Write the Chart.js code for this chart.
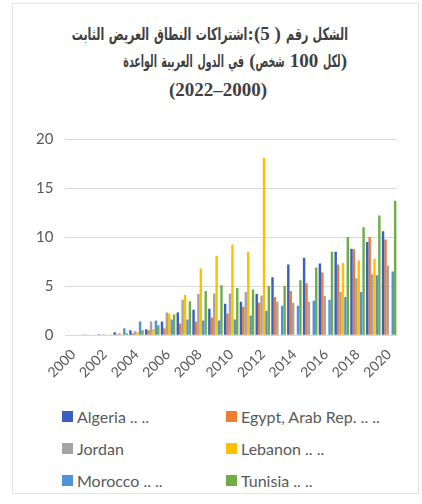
<!DOCTYPE html>
<html>
<head>
<meta charset="utf-8">
<script src="https://cdn.jsdelivr.net/npm/chart.js@4.4.0/dist/chart.umd.min.js"></script>
<style>
    body { margin: 0; background: #fff; width: 422px; height: 504px; position: relative; overflow: hidden; font-family: Lato, "Liberation Sans", sans-serif; }
    #frame { position: absolute; left: 12px; top: 3px; width: 405px; height: 489px; border: 1px solid #e4e4e4; }
    .tl { position: absolute; white-space: nowrap; color: #404040; font-family: "Liberation Serif", serif; font-weight: bold; font-size: 19px; line-height: 29px; }
    .tl .ar { display: inline-block; font-family: "DejaVu Sans", sans-serif; font-size: 17px; }
    #legend { position: absolute; left: 62px; top: 400px; display: grid; grid-template-columns: 164px 180px; grid-auto-rows: 32px; }
    .item { display: flex; align-items: center; font-size: 16px; color: #595959; white-space: nowrap; }
    .box { width: 11px; height: 11px; margin-right: 4px; }
</style>
</head>
<body>
<div id="frame"></div>
<div class="tl" id="t1" dir="rtl" style="right:74px; top:19px"></div>
<div class="tl" id="t2" dir="rtl" style="right:75px; top:46px"></div>
<div class="tl" id="t3" dir="ltr" style="left:169px; top:75px"></div>
<canvas id="chart-canvas" width="422" height="384" style="position:absolute;left:0;top:0"></canvas>
<div id="legend"></div>
<script>
// Categories and series (fixed broadband subscriptions per 100 people)
const years = ['2000', '2001', '2002', '2003', '2004', '2005', '2006', '2007', '2008', '2009', '2010',
    '2011', '2012', '2013', '2014', '2015', '2016', '2017', '2018', '2019', '2020'];
const countries = ['Algeria .. ..', 'Egypt, Arab Rep. .. ..', 'Jordan', 'Lebanon .. ..', 'Morocco .. ..', 'Tunisia .. ..'];

const algeria = [0, 0.02, 0.1, 0.3, 0.5, 0.6, 1.4, 2.3, 2.6, 2.7, 3.2, 3.4, 4.2, 5.9, 7.2, 7.9, 7.3, 8.5, 8.8, 9.5, 10.6];
const egypt = [0, 0.01, 0.05, 0.1, 0.2, 0.5, 0.7, 1.2, 1.4, 1.8, 2.2, 2.9, 3.3, 3.9, 4.5, 5.3, 6.4, 7.2, 8.75, 10.0, 9.75];
const jordan = [0, 0.01, 0.1, 0.2, 0.4, 1.4, 2.3, 3.6, 4.2, 4.25, 4.25, 4.4, 4.05, 3.4, 3.3, 3.4, 4.0, 4.4, 5.8, 6.2, 7.1];
const lebanon = [0, 0, 0, 0.1, 0.3, 0.6, 2.2, 4.1, 6.8, 8.1, 9.25, 8.5, 18.1, null, null, null, null, 7.35, 7.6, 7.8, null];
const morocco = [0, 0, 0.05, 0.7, 1.4, 1.5, 1.6, 1.6, 1.5, 1.5, 1.6, 2.0, 2.5, 3.0, 3.0, 3.5, 3.6, 3.9, 4.4, 6.1, 6.5];
const tunisia = [0, 0, 0.02, 0.2, 0.5, 1.0, 2.1, 3.45, 4.5, 5.1, 4.8, 4.65, 5.0, 5.0, 5.6, 6.9, 8.5, 10.0, 11.0, 12.2, 13.7];

const yTicks = [0, 5, 10, 15, 20];

const titleLines = [
    'الشكل رقم ( 5):اشتراكات النطاق العريض الثابت',
    '(لكل 100 شخص) في الدول العربية الواعدة',
    '(2022–2000)'
];
const titleWidths = [276, 224, null];   // widths of the lines in the picture

const colors = ['#3a5fbf', '#ed7d31', '#a5a5a5', '#ffc000', '#4f93d8', '#70ad47'];
const textColor = '#595959';

// Title lines; Arabic runs are squeezed so each line is as wide as in the picture
titleLines.forEach((line, i) => {
    const el = document.getElementById('t' + (i + 1));
    el.innerHTML = line.replace(/([\u0600-\u06FF]+)/g, '<span class="ar">$1</span>');
    const spans = [...el.querySelectorAll('.ar')];
    if (!titleWidths[i] || !spans.length) return;
    const arWidth = spans.reduce((s, sp) => s + sp.offsetWidth, 0);
    const rest = el.offsetWidth - arWidth;
    const k = (titleWidths[i] - rest) / arWidth;
    spans.forEach(sp => {
        const w = sp.offsetWidth;
        sp.style.transform = `scaleX(${k})`;
        sp.style.margin = `0 ${-w * (1 - k) / 2}px`;
    });
});

const seriesList = [algeria, egypt, jordan, lebanon, morocco, tunisia];

const ctx = document.getElementById('chart-canvas').getContext('2d');
const chart = new Chart(ctx, {
    type: 'bar',
    data: {
        labels: years,
        datasets: seriesList.map((values, i) => ({
            label: countries[i],
            data: values,
            backgroundColor: colors[i],
            borderWidth: 0,
            categoryPercentage: 0.92,
            barPercentage: 1.0
        }))
    },
    options: {
        responsive: false,
        animation: false,
        layout: { padding: { left: 24, right: 25, top: 139, bottom: 0 } },
        plugins: {
            legend: { display: false },
            tooltip: { enabled: false },
            title: { display: false }
        },
        scales: {
            x: {
                grid: { display: false },
                border: { color: '#d9d9d9' },
                ticks: {
                    autoSkip: false,
                    minRotation: 45,
                    maxRotation: 45,
                    color: textColor,
                    font: { family: 'Lato', size: 14 },
                    callback: (value, index) => index % 2 === 0 ? years[index] : ''
                }
            },
            y: {
                min: yTicks[0],
                max: yTicks[yTicks.length - 1],
                grid: { color: '#d9d9d9', drawTicks: false },
                border: { display: false },
                ticks: {
                    stepSize: 5,
                    padding: 12,
                    color: textColor,
                    font: { family: 'Lato', size: 15 }
                }
            }
        }
    }
});

// Legend in two columns, built from the chart datasets
const legendEl = document.getElementById('legend');
chart.data.datasets.forEach(ds => {
    const item = document.createElement('div');
    item.className = 'item';
    item.innerHTML = `<span class="box" style="background:${ds.backgroundColor}"></span>${ds.label}`;
    legendEl.appendChild(item);
});
</script>
</body>
</html>
